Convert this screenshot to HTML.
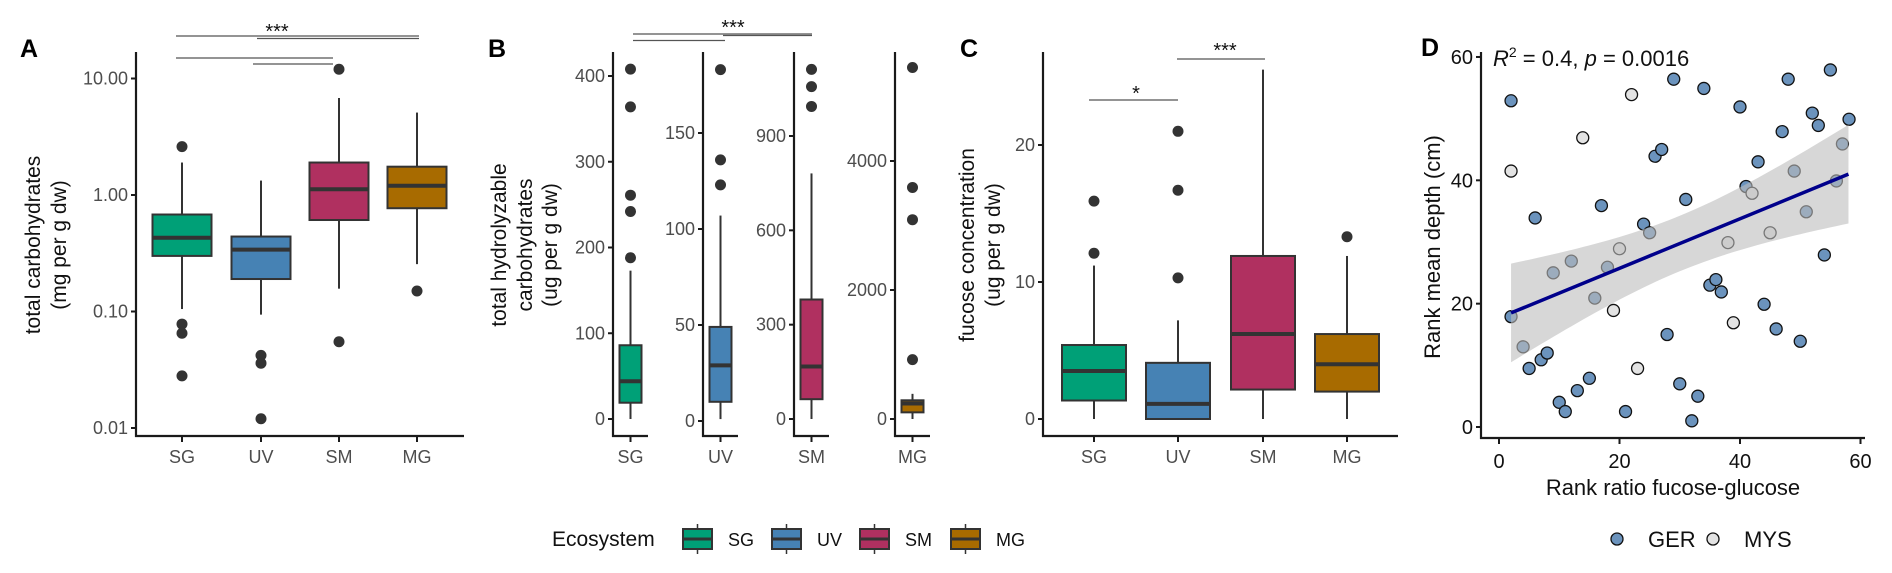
<!DOCTYPE html>
<html><head><meta charset="utf-8"><style>
html,body{margin:0;padding:0;background:#fff}
svg{display:block;font-family:"Liberation Sans",Arial,sans-serif}
</style></head><body>
<svg id="chart" width="1892" height="573" viewBox="0 0 1892 573" xmlns="http://www.w3.org/2000/svg"></svg>
<script>
// ---------- data ----------
const categories = ["SG","UV","SM","MG"];
const colors = ["#00a077","#4682b4","#b03060","#a86b00"];
// Panel A (log scale)
const aQ1 = [0.30,0.19,0.61,0.77];
const aMed = [0.43,0.34,1.12,1.20];
const aQ3 = [0.68,0.44,1.90,1.75];
const aLo = [0.105,0.094,0.157,0.255];
const aHi = [1.9,1.33,6.8,5.1];
const aOut = [[2.6,0.078,0.065,0.028],[0.042,0.036,0.012],[12,0.055],[0.15]];
const aTicks = [10,1,0.1,0.01];
const aTickLabels = ["10.00","1.00","0.10","0.01"];
// Panel B (separate scales)
const bQ1 = [19,10,63,103];
const bMed = [44,29,167,240];
const bQ3 = [86,49,380,290];
const bLo = [0,1,0,0];
const bHi = [173,107,781,390];
const bOut = [[408,364,261,242,188],[183,136,123],[1112,1057,994],[5450,3590,3090,920]];
const bTicks = [[0,100,200,300,400],[0,50,100,150],[0,300,600,900],[0,2000,4000]];
const bTopTick = [400,150,900,4000];
// Panel C
const cQ1 = [1.35,0,2.15,2.0];
const cMed = [3.5,1.1,6.2,4.0];
const cQ3 = [5.4,4.1,11.9,6.2];
const cLo = [0,0,0,0];
const cHi = [11.2,7.2,25.5,11.9];
const cOut = [[15.9,12.1],[21,16.7,10.3],[],[13.3]];
const cTicks = [0,10,20];
// Panel D
const dX = [2,2,2,4,5,6,7,8,9,10,11,12,13,13.9,15,15.9,17,18,19,20,21,22,23,24,25,25.9,27,27.9,29,30,31,32,33,34,35,36,36.9,38,38.9,40,41,42,43,44,45,46,47,48,49,50,51,52,53,54,55,56,57,58.1];
const dY = [52.9,41.5,17.9,13,9.5,33.9,10.9,12,25,4,2.5,26.9,5.9,46.9,7.9,20.9,35.9,25.9,18.9,28.9,2.5,53.9,9.5,32.9,31.5,43.9,45,15,56.4,7,36.9,1,5,54.9,23,23.9,21.9,29.9,16.9,51.9,39,37.9,43,19.9,31.5,15.9,47.9,56.4,41.5,13.9,34.9,50.9,48.9,27.9,57.9,39.9,45.9,49.9];
const dGroup = ["G","M","G","G","G","G","G","G","G","G","G","G","G","M","G","G","G","G","M","M","G","M","M","G","G","G","G","G","G","G","G","G","G","G","G","G","G","M","M","G","G","M","G","G","M","G","G","G","G","G","G","G","G","G","G","G","G","G"];
const dFit = [18.5,41.0]; // fitted y at x=2 and x=58
const dFitX = [2,58];
const dTicks = [0,20,40,60];

// ---------- helpers ----------
const svg = document.getElementById('chart');
const NS = "http://www.w3.org/2000/svg";
function el(tag, attrs, parent){
  const e = document.createElementNS(NS, tag);
  for (const k in attrs) e.setAttribute(k, attrs[k]);
  (parent||svg).appendChild(e);
  return e;
}
function txt(s, attrs, parent){ const t = el('text', attrs, parent); t.textContent = s; return t; }
const INK = "#333333", TICKC = "#4d4d4d";

function boxPanel(g, cx, w, yS, q1, med, q3, lo, hi, outs, color, name){
  const grp = el('g', {}, g);
  
  
  const wh1 = el('line', {x1:cx, x2:cx, y1:yS(q3), y2:yS(hi), stroke:INK, 'stroke-width':2}, grp);
  
  
  const wh2 = el('line', {x1:cx, x2:cx, y1:yS(q1), y2:yS(lo), stroke:INK, 'stroke-width':2}, grp);
  
  
  const r = el('rect', {x:cx-w/2, y:yS(q3), width:w, height:Math.max(1,yS(q1)-yS(q3)), fill:color, stroke:INK, 'stroke-width':2}, grp);
  
  
  const m = el('line', {x1:cx-w/2, x2:cx+w/2, y1:yS(med), y2:yS(med), stroke:INK, 'stroke-width':4}, grp);
  
  
  outs.forEach(v => {
    const c = el('circle', {cx:cx, cy:yS(v), r:5.5, fill:INK}, grp);
    
    
  });
}
function yAxis(g, x, top, bot, ticks, labels, yS, fs, col){
  const ax = el('line', {x1:x, x2:x, y1:top, y2:bot, stroke:"#1a1a1a", 'stroke-width':2.2}, g);
  
  
  ticks.forEach((t,i) => {
    const y = yS(t);
    el('line', {x1:x-5, x2:x, y1:y, y2:y, stroke:"#1a1a1a", 'stroke-width':2}, g);
    const tl = txt(labels[i], {x:x-8, y:y+6, 'text-anchor':'end', 'font-size':fs, fill:col||TICKC}, g);
    
    
  });
}
function xAxis(g, x1, x2, y, cats, xs, fs, col){
  const ax = el('line', {x1:x1, x2:x2, y1:y, y2:y, stroke:"#1a1a1a", 'stroke-width':2.2}, g);
  
  
  cats.forEach((c,i) => {
    el('line', {x1:xs[i], x2:xs[i], y1:y, y2:y+6, stroke:"#1a1a1a", 'stroke-width':2}, g);
    const tl = txt(c, {x:xs[i], y:y+27, 'text-anchor':'middle', 'font-size':fs, fill:col||TICKC}, g);
    
    
  });
}
function sigLine(g, x1, x2, y){
  const l = el('line', {x1:x1, x2:x2, y1:y, y2:y, stroke:"#555", 'stroke-width':1.3}, g);
  
  
}
function sigText(g, s, x, y){
  const t = txt(s, {x:x, y:y, 'text-anchor':'middle', 'font-size':20, fill:"#111"}, g);
  
  
}
function yTitle(g, lines, xs, cy, fs){
  lines.forEach((s,i) => {
    const t = txt(s, {x:0, y:0, 'text-anchor':'middle', 'font-size':fs, fill:"#111", transform:`translate(${xs[i]},${cy}) rotate(-90)`}, g);
    
    
  });
}
function panelLabel(s, x, y){
  const t = txt(s, {x:x, y:y, 'font-size':25, 'font-weight':'bold', fill:"#000"});
  
  
}

// ---------- Panel A ----------
const gA = el('g', {});


const aX = [182,261,339,417];
const aY = v => 195 - Math.log10(v) * 116.5;
panelLabel('A', 20, 57);
yAxis(gA, 136, 52, 437, aTicks, aTickLabels, aY, 18);
xAxis(gA, 135, 464, 436, categories, aX, 18);
categories.forEach((c,i) => boxPanel(gA, aX[i], 59, aY, aQ1[i], aMed[i], aQ3[i], aLo[i], aHi[i], aOut[i], colors[i], 'a-' + c.toLowerCase()));
sigLine(gA, 176, 419, 36); sigLine(gA, 257, 419, 38.5); sigLine(gA, 176, 333, 58); sigLine(gA, 253, 333, 64);
sigText(gA, '***', 277, 38);
yTitle(gA, ['total carbohydrates','(mg per g dw)'], [40, 66], 245, 21);

// ---------- Panel B ----------
const gB = el('g', {});


panelLabel('B', 488, 57);
const bAxisX = [613,703,794,895];
const bZeroY = [419,421,419,419];
const bTopY = [76,133,136,161];
categories.forEach((c,i) => {
  const yS = v => bZeroY[i] - v * (bZeroY[i]-bTopY[i]) / bTopTick[i];
  const sg = el('g', {}, gB);
  
  
  yAxis(sg, bAxisX[i], 52, 437, bTicks[i], bTicks[i].map(String), yS, 18);
  const cx = bAxisX[i] + 17.5;
  xAxis(sg, bAxisX[i]-1, bAxisX[i]+35, 436, [c], [cx], 18);
  boxPanel(sg, cx, 22, yS, bQ1[i], bMed[i], bQ3[i], bLo[i], bHi[i], bOut[i], colors[i], 'b-' + c.toLowerCase());
});
sigLine(gB, 633, 812, 34); sigLine(gB, 723, 812, 35.5); sigLine(gB, 633, 725, 40.5);
sigText(gB, '***', 733, 34);
yTitle(gB, ['total hydrolyzable','carbohydrates','(ug per g dw)'], [506, 532, 557], 245, 21);

// ---------- Panel C ----------
const gC = el('g', {});


panelLabel('C', 960, 57);
const cX = [1094,1178,1263,1347];
const cY = v => 419 - v * 13.7;
yAxis(gC, 1043, 52, 437, cTicks, cTicks.map(String), cY, 18);
xAxis(gC, 1042, 1398, 436, categories, cX, 18);
categories.forEach((c,i) => boxPanel(gC, cX[i], 64, cY, cQ1[i], cMed[i], cQ3[i], cLo[i], cHi[i], cOut[i], colors[i], 'c-' + c.toLowerCase()));
sigLine(gC, 1089, 1178, 100); sigText(gC, '*', 1136, 100);
sigLine(gC, 1177, 1265, 59); sigText(gC, '***', 1225, 57);
yTitle(gC, ['fucose concentration','(ug per g dw)'], [974, 1000], 245, 21);

// ---------- Legend ----------
const gL = el('g', {});


const lt = txt('Ecosystem', {x:552, y:546, 'font-size':21, fill:"#111"}, gL);


const legKeyX = [683,772,860,951];
categories.forEach((c,i) => {
  const e = el('g', {}, gL);
  
  
  const x = legKeyX[i];
  el('line', {x1:x+14.5, x2:x+14.5, y1:524, y2:554, stroke:INK, 'stroke-width':1.5}, e);
  el('rect', {x:x, y:529, width:29, height:20, fill:colors[i], stroke:INK, 'stroke-width':2}, e);
  el('line', {x1:x, x2:x+29, y1:539, y2:539, stroke:INK, 'stroke-width':3}, e);
  txt(c, {x:x+45, y:546, 'font-size':18, fill:"#111"}, e);
});

// ---------- Panel D ----------
const gD = el('g', {});


panelLabel('D', 1421, 56);
const dXS = v => 1499 + v * 6.025;
const dYS = v => 427 - v * 6.167;
// points
dX.forEach((x,i) => {
  const c = el('circle', {cx:dXS(x), cy:dYS(dY[i]), r:6, fill: dGroup[i]==="G" ? "#6b93bd" : "#e3e3e3", stroke:"#111", 'stroke-width':1.3}, gD);
  
  
});
// confidence ribbon
const slope = (dFit[1]-dFit[0])/(dFitX[1]-dFitX[0]);
const fitAt = x => dFit[0] + slope*(x-dFitX[0]);
const half = x => Math.sqrt(4.5*4.5 + 0.0558*(x-30)*(x-30));
let up = [], dn = [];
for (let x = dFitX[0]; x <= dFitX[1] + 0.001; x += 1) {
  up.push(dXS(x) + ',' + dYS(fitAt(x)+half(x)));
  dn.unshift(dXS(x) + ',' + dYS(fitAt(x)-half(x)));
}
const rib = el('polygon', {points: up.concat(dn).join(' '), fill:"#bdbdbd", 'fill-opacity':0.6}, gD);


const fl = el('line', {x1:dXS(dFitX[0]), y1:dYS(dFit[0]), x2:dXS(dFitX[1]), y2:dYS(dFit[1]), stroke:"#00008b", 'stroke-width':3.5}, gD);


// axes
const dya = el('line', {x1:1481, x2:1481, y1:52, y2:439, stroke:"#1a1a1a", 'stroke-width':2.2}, gD);


const dxa = el('line', {x1:1480, x2:1865, y1:438, y2:438, stroke:"#1a1a1a", 'stroke-width':2.2}, gD);


dTicks.forEach(t => {
  el('line', {x1:1476, x2:1481, y1:dYS(t), y2:dYS(t), stroke:"#1a1a1a", 'stroke-width':2}, gD);
  const yl = txt(String(t), {x:1473, y:dYS(t)+7, 'text-anchor':'end', 'font-size':20, fill:"#111"}, gD);
  
  
  el('line', {x1:dXS(t), x2:dXS(t), y1:438, y2:444, stroke:"#1a1a1a", 'stroke-width':2}, gD);
  const xl = txt(String(t), {x:dXS(t), y:468, 'text-anchor':'middle', 'font-size':20, fill:"#111"}, gD);
  
  
});
const dxt = txt('Rank ratio fucose-glucose', {x:1673, y:495, 'text-anchor':'middle', 'font-size':22, fill:"#111"}, gD);


yTitle(gD, ['Rank mean depth (cm)'], [1440], 247, 22);
const ann = el('text', {x:1493, y:66, 'font-size':22, fill:"#111"}, gD);


ann.innerHTML = '<tspan font-style="italic">R</tspan><tspan dy="-9" font-size="14">2</tspan><tspan dy="9"> = 0.4, </tspan><tspan font-style="italic">p</tspan><tspan> = 0.0016</tspan>';
// legend D
const gDL = el('g', {}, gD);


const e1 = el('g', {}, gDL);


el('circle', {cx:1617, cy:539, r:6, fill:"#6b93bd", stroke:"#111", 'stroke-width':1.3}, e1);
txt('GER', {x:1648, y:547, 'font-size':22, fill:"#111"}, e1);
const e2 = el('g', {}, gDL);


el('circle', {cx:1713, cy:539, r:6, fill:"#e3e3e3", stroke:"#111", 'stroke-width':1.3}, e2);
txt('MYS', {x:1744, y:547, 'font-size':22, fill:"#111"}, e2);
</script>
</body></html>
